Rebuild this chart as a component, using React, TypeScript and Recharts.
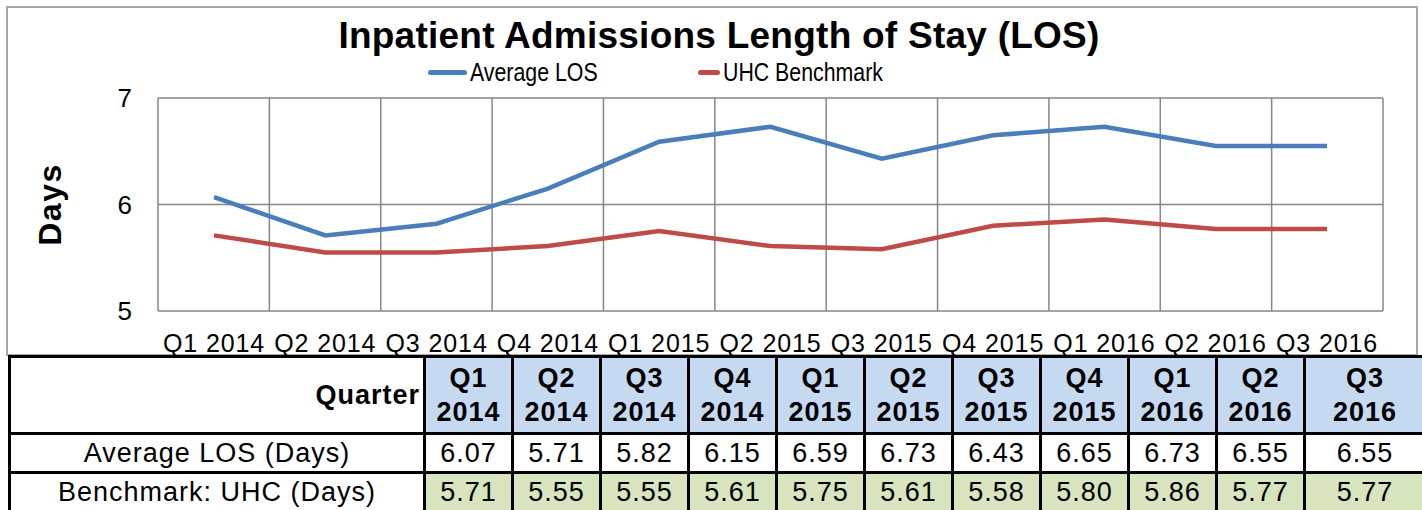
import { LineChart, Line, XAxis, YAxis, CartesianGrid, Legend } from "recharts";

const quarters = [
  "Q1 2014", "Q2 2014", "Q3 2014", "Q4 2014", "Q1 2015", "Q2 2015",
  "Q3 2015", "Q4 2015", "Q1 2016", "Q2 2016", "Q3 2016",
];
const averageLos = [6.07, 5.71, 5.82, 6.15, 6.59, 6.73, 6.43, 6.65, 6.73, 6.55, 6.55];
const uhcBenchmark = [5.71, 5.55, 5.55, 5.61, 5.75, 5.61, 5.58, 5.8, 5.86, 5.77, 5.77];
const yTicks = [5, 6, 7];

const BLUE = "#4A7EBB";
const RED = "#BE4B48";
const GRID = "#868686";
const FONT = "'Liberation Sans', Arial, sans-serif";

const data = quarters.map((q, i) => ({
  quarter: q,
  avg: averageLos[i],
  uhc: uhcBenchmark[i],
}));

function LegendContent() {
  const items = [
    { label: "Average LOS", color: BLUE, width: 270 },
    { label: "UHC Benchmark", color: RED, width: 220 },
  ];
  return (
    <div style={{ display: "flex", paddingLeft: 428, fontFamily: FONT }}>
      {items.map((it) => (
        <div key={it.label} style={{ display: "flex", alignItems: "center", width: it.width }}>
          <div style={{ width: 39, height: 5, borderRadius: 3, background: it.color }} />
          <span
            style={{
              fontSize: 26,
              marginLeft: 3,
              display: "inline-block",
              transform: "scaleX(0.82)",
              transformOrigin: "left center",
              whiteSpace: "nowrap",
            }}
          >
            {it.label}
          </span>
        </div>
      ))}
    </div>
  );
}

function DaysLabel(props: any) {
  const vb = props.viewBox || {};
  const cy = vb.y + vb.height / 2;
  return (
    <text
      x={50}
      y={cy}
      transform={`rotate(-90, 50, ${cy})`}
      textAnchor="middle"
      dominantBaseline="central"
      fontSize={32}
      fontWeight="bold"
      letterSpacing={1.5}
      fontFamily={FONT}
      fill="#000"
    >
      Days
    </text>
  );
}

const cell: React.CSSProperties = {
  border: "3px solid #000",
  padding: 0,
  textAlign: "center",
  fontSize: 27,
  letterSpacing: 1,
};

export default function App() {
  return (
    <div style={{ position: "absolute", left: 0, top: 0, width: 1422, height: 510, background: "#fff", fontFamily: FONT, overflow: "hidden" }}>
      <div
        style={{
          position: "absolute",
          left: 6,
          top: 6,
          width: 1408,
          height: 346,
          border: "2px solid #A6A6A6",
        }}
      />
      <div
        style={{
          position: "absolute",
          left: 0,
          top: 16,
          width: 1438,
          textAlign: "center",
          fontSize: 37,
          letterSpacing: 0.25,
          fontWeight: "bold",
          lineHeight: "40px",
        }}
      >
        Inpatient Admissions Length of Stay (LOS)
      </div>
      <div style={{ position: "absolute", left: 0, top: 0 }}>
        <LineChart width={1422} height={356} data={data} margin={{ top: 98, right: 39, bottom: 0, left: 0 }}>
          <CartesianGrid
            stroke={GRID}
            strokeWidth={1.5}
            verticalCoordinatesGenerator={({ offset }: any) =>
              quarters.concat([""]).map((_, i) => offset.left + (i * offset.width) / quarters.length)
            }
          />
          <XAxis
            dataKey="quarter"
            interval={0}
            height={45}
            padding={{ left: 56, right: 56 }}
            axisLine={false}
            tickLine={false}
            tickMargin={17}
            tick={{ fontSize: 25, fill: "#000", fontFamily: FONT, letterSpacing: 0.9 }}
          />
          <YAxis
            width={158}
            domain={[5, 7]}
            ticks={yTicks}
            axisLine={false}
            tickLine={false}
            tickMargin={20}
            tick={{ fontSize: 26, fill: "#000", fontFamily: FONT }}
            label={<DaysLabel />}
          />
          <Legend
            layout="horizontal"
            verticalAlign="middle"
            align="center"
            content={<LegendContent />}
            wrapperStyle={{ position: "absolute", top: 57, left: 0, width: 1422, height: 30 }}
          />
          <Line
            type="linear"
            dataKey="avg"
            name="Average LOS"
            stroke={BLUE}
            strokeWidth={4.5}
            dot={false}
            isAnimationActive={false}
          />
          <Line
            type="linear"
            dataKey="uhc"
            name="UHC Benchmark"
            stroke={RED}
            strokeWidth={4.5}
            dot={false}
            isAnimationActive={false}
          />
        </LineChart>
      </div>
      <table
        style={{
          position: "absolute",
          left: 8,
          top: 355,
          borderCollapse: "collapse",
          tableLayout: "fixed",
          width: 1416,
          fontFamily: FONT,
        }}
      >
        <colgroup>
          <col style={{ width: 415 }} />
          {quarters.map((q, i) => (
            <col key={q} style={{ width: i === quarters.length - 1 ? 121 : 88 }} />
          ))}
        </colgroup>
        <tbody>
          <tr style={{ height: 77 }}>
            <td style={{ ...cell, textAlign: "right", fontWeight: "bold", paddingRight: 3 }}>Quarter</td>
            {quarters.map((q) => (
              <td key={q} style={{ ...cell, fontWeight: "bold", background: "#C5D9F1", lineHeight: "34px" }}>
                {q.split(" ")[0]}
                <br />
                {q.split(" ")[1]}
              </td>
            ))}
          </tr>
          <tr style={{ height: 39 }}>
            <td style={cell}>Average LOS (Days)</td>
            {averageLos.map((v, i) => (
              <td key={i} style={cell}>{v.toFixed(2)}</td>
            ))}
          </tr>
          <tr style={{ height: 39 }}>
            <td style={cell}>Benchmark: UHC (Days)</td>
            {uhcBenchmark.map((v, i) => (
              <td key={i} style={{ ...cell, background: "#D7E4BD" }}>{v.toFixed(2)}</td>
            ))}
          </tr>
        </tbody>
      </table>
    </div>
  );
}
